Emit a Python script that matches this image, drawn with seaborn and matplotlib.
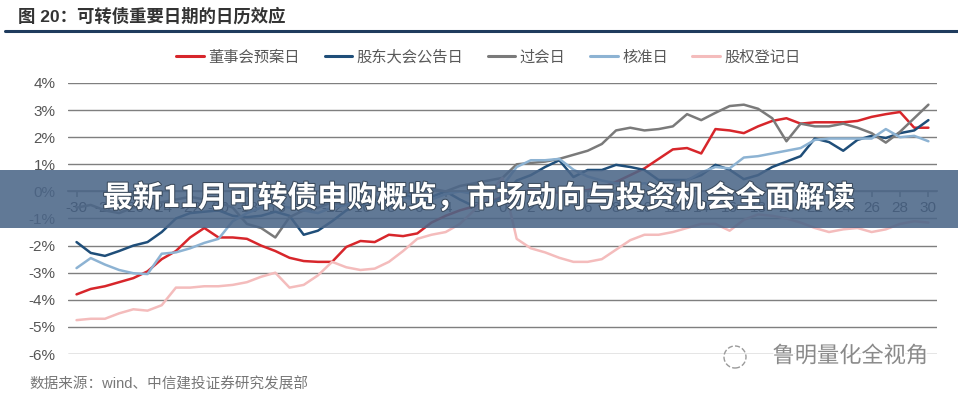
import pandas as pd
import matplotlib.pyplot as plt
import matplotlib.patheffects as pe
from matplotlib.patches import Rectangle, Circle
from matplotlib.lines import Line2D
import seaborn as sns

# data
days = list(range(-30, 31))
series_names = ["董事会预案日", "股东大会公告日", "过会日", "核准日", "股权登记日"]

board = [-3.8, -3.6, -3.5, -3.35, -3.2, -2.95, -2.5, -2.2, -1.7, -1.35,
         -1.7, -1.7, -1.75, -2.0, -2.2, -2.45, -2.57, -2.6, -2.6, -2.05,
         -1.83, -1.87, -1.6, -1.65, -1.55, -1.15, -0.9, -0.7, -0.55, -0.4,
         -0.2, -0.05, 0.05, 0.0, -0.05, 0.0, 0.05, 0.15, 0.35, 0.6,
         0.85, 1.2, 1.55, 1.6, 1.4, 2.3, 2.25, 2.15, 2.4, 2.6,
         2.7, 2.5, 2.55, 2.55, 2.55, 2.6, 2.75, 2.85, 2.93, 2.35, 2.35]
meeting = [-1.87, -2.27, -2.38, -2.2, -2.0, -1.87, -1.5, -1.0, -0.8, -0.75,
           -0.7, -0.9, -0.95, -0.9, -0.75, -0.9, -1.6, -1.45, -1.1, -0.7,
           -0.5, -0.3, -0.2, -0.1, -0.3, -0.2, 0.0, -0.3, -0.55, -0.5,
           -0.2, 0.4, 0.6, 0.9, 1.15, 0.53, 0.79, 0.79, 0.98, 0.9,
           0.79, 0.42, 0.42, 0.42, 0.6, 0.98, 0.8, 0.45, 0.6, 0.9,
           1.1, 1.3, 1.95, 1.82, 1.5, 1.9, 2.05, 1.97, 2.15, 2.25, 2.63]
review = [-0.6, -0.5, -0.7, -0.8, -0.6, -0.5, -0.4, -0.3, -0.2, -0.3,
          -0.4, -0.6, -1.2, -1.35, -1.7, -0.95, -0.7, -0.6, -0.4, -0.5,
          -0.3, -0.2, -0.25, -0.1, 0.0, 0.1, 0.0, 0.2, 0.3, 0.4,
          0.5, 1.0, 1.05, 1.1, 1.2, 1.35, 1.5, 1.75, 2.25, 2.35,
          2.25, 2.3, 2.4, 2.85, 2.63, 2.9, 3.15, 3.2, 3.05, 2.7,
          1.85, 2.5, 2.4, 2.4, 2.5, 2.35, 2.15, 1.8, 2.2, 2.7, 3.2]
approval = [-2.83, -2.46, -2.7, -2.9, -3.02, -3.05, -2.3, -2.25, -2.1, -1.9,
            -1.75, -1.1, -0.8, -0.6, -0.5, -0.6, -0.7, -0.8, -0.6, -0.5,
            -0.4, -0.45, -0.3, -0.2, -0.35, -0.3, -0.1, 0.0, -0.1, 0.0,
            0.2, 0.9, 1.15, 1.15, 1.2, 0.8, 0.55, 0.4, 0.3, 0.25,
            0.3, 0.2, 0.3, 0.4, 0.7, 0.9, 0.85, 1.25, 1.3, 1.4,
            1.5, 1.6, 1.9, 1.95, 1.95, 1.95, 1.95, 2.3, 2.0, 2.05, 1.85]
record = [-4.75, -4.7, -4.7, -4.5, -4.35, -4.4, -4.2, -3.55, -3.55, -3.5,
          -3.5, -3.45, -3.35, -3.15, -3.0, -3.55, -3.45, -3.1, -2.6, -2.8,
          -2.9, -2.85, -2.6, -2.2, -1.75, -1.6, -1.5, -1.2, -0.7, -0.1,
          0.5, -1.75, -2.1, -2.25, -2.45, -2.6, -2.6, -2.5, -2.15, -1.8,
          -1.6, -1.6, -1.5, -1.35, -1.2, -1.2, -1.45, -1.05, -0.85, -0.9,
          -1.0, -1.15, -1.35, -1.5, -1.4, -1.35, -1.5, -1.4, -1.2, -1.1, -1.15]

colors = ["#d7262b", "#1f4e79", "#7a7a7a", "#8db3d3", "#f4bcbc"]

df = pd.DataFrame({"day": days * 5,
                   "value": board + meeting + review + approval + record,
                   "series": sum([[n] * len(days) for n in series_names], [])})

sns.set_theme(style="white")
plt.rcParams['font.family'] = ['Liberation Sans', 'Noto Sans CJK SC']

fig = plt.figure(figsize=(9.58, 4), dpi=100)
ax = fig.add_axes([0.071, 0.115, 0.907, 0.6775])

sns.lineplot(data=df, x="day", y="value", hue="series", hue_order=series_names,
             palette=dict(zip(series_names, colors)), linewidth=1.8, ax=ax,
             legend=False)

ax.set_xlim(-30.6, 30.6)
ax.set_ylim(-6, 4)
ax.set_yticks(range(-6, 5))
ax.set_yticklabels([f"{v}%" for v in range(-6, 5)], fontsize=11, color="#555555")
ax.set_xticks(range(-30, 31, 2))
ax.set_xticklabels([str(v) for v in range(-30, 31, 2)], fontsize=11, color="#555555")
ax.grid(axis="y", color="#7f7f7f", linewidth=1)
ax.set_xlabel("")
ax.set_ylabel("")
for s in ["left", "right", "top"]:
    ax.spines[s].set_visible(False)
ax.spines["bottom"].set_position(("data", 0))
ax.spines["bottom"].set_color("#7f7f7f")
ax.tick_params(axis="x", length=4, direction="out", color="#7f7f7f", pad=3, bottom=True)
ax.tick_params(axis="y", length=0, pad=9)

# legend
handles = [Line2D([0], [0], color=c, lw=2.2) for c in colors]
fig.legend(handles, series_names, loc="center", bbox_to_anchor=(0.51, 0.857), ncol=5,
           frameon=False, fontsize=11, handlelength=1.8, columnspacing=1.6,
           handletextpad=0.3, labelcolor="#595959")

# title and rule
fig.text(0.019, 0.96, "图 20：可转债重要日期的日历效应", fontsize=12.5, fontweight="bold",
         color="#333333", va="center", ha="left")
fig.add_artist(Line2D([0.005, 1.0], [0.922, 0.922], color="#1f3c5e", lw=2.2))

# source and watermark
fig.text(0.031, 0.038, "数据来源：wind、中信建投证券研究发展部", fontsize=10.5,
         color="#777777", va="center", ha="left")
fig.text(0.969, 0.108, "鲁明量化全视角", fontsize=16, color="#8a8a8a", va="center",
         ha="right", path_effects=[pe.withStroke(linewidth=2, foreground="white")])
fig.add_artist(Circle((7.35, 0.43), 0.11, transform=fig.dpi_scale_trans, fill=False,
                      edgecolor="#9a9a9a", linestyle="--", lw=1))

# overlay banner
fig.add_artist(Rectangle((0, 0.43), 1, 0.145, transform=fig.transFigure,
                         facecolor="#4b6688", alpha=0.88, edgecolor="none", zorder=10))
fig.text(0.5, 0.505, "最新11月可转债申购概览，市场动向与投资机会全面解读", fontsize=21.5,
         fontweight="bold", color="white", ha="center", va="center", zorder=11,
         family=["Noto Sans CJK SC", "DejaVu Sans"],
         path_effects=[pe.withStroke(linewidth=1.5, foreground="#3a4a5c")])

fig.savefig("out.png", dpi=100)
